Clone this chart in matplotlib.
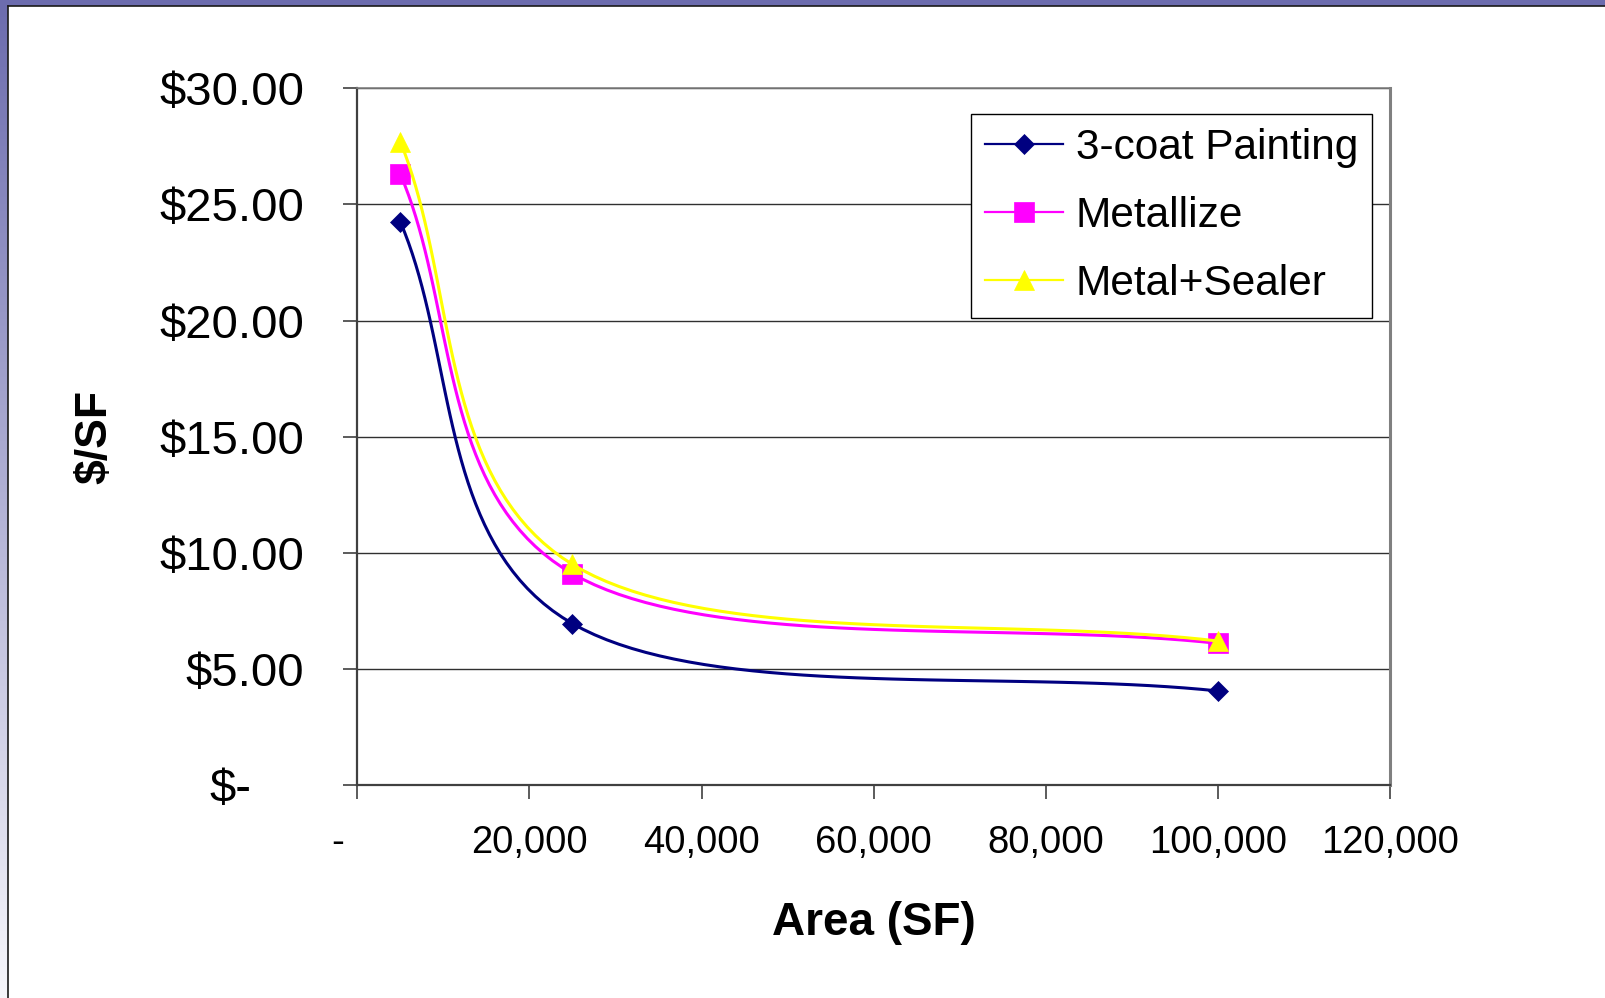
import numpy as np
import matplotlib
matplotlib.use("Agg")
import matplotlib.pyplot as plt
from matplotlib.patches import Rectangle
from matplotlib.lines import Line2D
from matplotlib.transforms import offset_copy

plt.rcParams["font.family"] = ["Liberation Sans", "DejaVu Sans"]

AREA = [5000, 25000, 100000]
PAINT_3COAT = [24.25, 6.95, 4.05]
METALLIZE = [26.3, 9.1, 6.1]
METAL_SEALER = [27.7, 9.5, 6.2]
SERIES_NAMES = ["3-coat Painting", "Metallize", "Metal+Sealer"]
SERIES_COLORS = ["#000080", "#FF00FF", "#FFFF00"]
SERIES_MARKERS = ["D", "s", "^"]
MARKER_SIZES = [10.4, 14.5, 14.5]

Y_TICKS = [0, 5, 10, 15, 20, 25, 30]
X_TICKS = [0, 20000, 40000, 60000, 80000, 100000, 120000]

W, H, DPI = 1606, 998, 100


def smooth(xs, ys, n=40):
    # piecewise cubic Bezier through the points, tangents from neighbours,
    # end tangents taken from the extrapolated neighbour
    p = np.column_stack([xs, ys]).astype(float)
    ext = np.vstack([2 * p[0] - p[1], p, 2 * p[-1] - p[-2]])
    t = np.linspace(0, 1, n)[1:, None]
    out = [p[:1]]
    for i in range(len(p) - 1):
        p0, p1, p2, p3 = ext[i], ext[i + 1], ext[i + 2], ext[i + 3]
        c1 = p1 + (p2 - p0) / 6
        c2 = p2 - (p3 - p1) / 6
        seg = ((1 - t) ** 3 * p1 + 3 * t * (1 - t) ** 2 * c1
               + 3 * t ** 2 * (1 - t) * c2 + t ** 3 * p2)
        out.append(seg)
    pts = np.vstack(out)
    return pts[:, 0], pts[:, 1], list(range(0, len(pts), n - 1))


fig = plt.figure(figsize=(W / DPI, H / DPI), dpi=DPI, facecolor="white")

# slide frame: purple band on top, fading strip on the left
bg = fig.add_axes([0, 0, 1, 1], zorder=-5)
bg.set_axis_off()
top_c = np.array([0x6C, 0x6C, 0xAE]) / 255
bot_c = np.array([0xF6, 0xF6, 0xFB]) / 255
frac = np.linspace(0, 1, 200)[:, None]
grad = (top_c * (1 - frac) + bot_c * frac)[:, None, :]
bg.imshow(grad, extent=[0, 8, H, 0], aspect="auto", interpolation="bilinear")
bg.add_patch(Rectangle((0, 0), W, 5.5, color="#6C6CAE", lw=0))
bg.plot([8, W], [6, 6], color="#1a1a1a", lw=1.2)
bg.plot([8.5, 8.5], [6, H], color="#1a1a1a", lw=1.2)
bg.set_xlim(0, W)
bg.set_ylim(H, 0)

ax = fig.add_axes([357.3 / W, 1 - 785 / H, (1390 - 357.3) / W, (785 - 88.3) / H])
ax.set_facecolor("white")

series = [PAINT_3COAT, METALLIZE, METAL_SEALER]
handles = []
for vals, name, col, mk, ms in zip(series, SERIES_NAMES, SERIES_COLORS,
                                   SERIES_MARKERS, MARKER_SIZES):
    sx, sy, every = smooth(AREA, vals)
    ax.plot(sx, sy, color=col, lw=2.2, marker=mk, markersize=ms,
            markevery=every, markerfacecolor=col, markeredgecolor=col,
            markeredgewidth=0.5, solid_joinstyle="round", zorder=3)
    handles.append(Line2D([], [], color=col, lw=1.6, marker=mk, markersize=ms,
                          markerfacecolor=col, markeredgecolor=col,
                          markeredgewidth=0.5, label=name))

ax.set_xlim(0, 120000)
ax.set_ylim(0, 30)
ax.set_yticks(Y_TICKS)
ax.set_yticklabels(["" if v == 0 else "\\$%.2f" % v for v in Y_TICKS])
ax.set_xticks(X_TICKS)
ax.set_xticklabels(["" if v == 0 else f"{v:,}" for v in X_TICKS])

ax.yaxis.grid(True, color="#303030", lw=1.0)
ax.set_axisbelow(True)

ax.spines["left"].set_color("#404040")
ax.spines["left"].set_linewidth(1.6)
ax.spines["bottom"].set_color("#404040")
ax.spines["bottom"].set_linewidth(1.6)
ax.spines["top"].set_color("#808080")
ax.spines["top"].set_linewidth(1.2)
ax.spines["right"].set_color("#808080")
ax.spines["right"].set_linewidth(2.2)

ax.tick_params(axis="both", direction="out", length=10, width=1.2, color="#404040")
ax.tick_params(axis="y", labelsize=34, pad=28)
ax.tick_params(axis="x", labelsize=27.5, pad=19)

# zero labels in accounting style
ax.text(0, 0, "\\$-", fontsize=34, ha="right", va="center_baseline",
        transform=offset_copy(ax.get_yaxis_transform(), fig, x=-(357.3 - 251), y=0, units="dots"))
ax.text(0, 0, "-", fontsize=27.5, ha="center", va="top",
        transform=offset_copy(ax.get_xaxis_transform(), fig, x=-19.5, y=-(13.9 + 26.4), units="dots"))

ax.set_xlabel("Area (SF)", fontsize=33, fontweight="bold")
ax.xaxis.set_label_coords(0.5, -0.167)
ax.set_ylabel("\\$/SF", fontsize=32, fontweight="bold")
ax.yaxis.set_label_coords(-0.2346, 0.5)

leg = ax.legend(handles=handles, loc="upper left", bbox_to_anchor=(971 / W, 1 - 114 / H),
                bbox_transform=fig.transFigure, borderaxespad=0, frameon=True,
                fancybox=False, edgecolor="black", framealpha=1, fontsize=30.5,
                handlelength=1.84, handletextpad=0.3, labelspacing=0.66,
                borderpad=0.33, numpoints=1)
leg.get_frame().set_linewidth(1.0)

fig.savefig("out.png", dpi=DPI, facecolor="white")
